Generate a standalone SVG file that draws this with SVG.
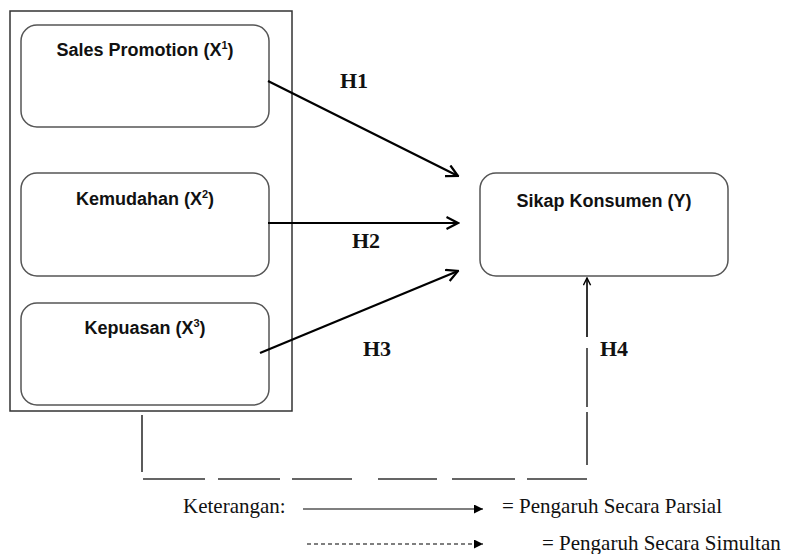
<svg xmlns="http://www.w3.org/2000/svg" width="785" height="554" viewBox="0 0 785 554">
<defs>
<style>
.frame{fill:none;stroke:#333;stroke-width:1.5}
.box{fill:#fff;stroke:#555;stroke-width:1.5}
.lbl{font-family:"Liberation Sans",Arial,sans-serif;font-weight:bold;font-size:18px;fill:#111;text-anchor:middle}
.sup{font-size:11px}
.h{font-family:"Liberation Serif","Times New Roman",serif;font-weight:bold;font-size:22px;fill:#111}
.leg{font-family:"Liberation Serif","Times New Roman",serif;font-size:21px;fill:#111}
.arr{fill:none;stroke:#000;stroke-width:2.2;marker-end:url(#open)}
.dash{fill:none;stroke:#333;stroke-width:1.6}
</style>
<marker id="open" viewBox="0 0 14 14" refX="12.5" refY="7" markerWidth="14" markerHeight="14" markerUnits="userSpaceOnUse" orient="auto">
<path d="M1,1 L12.5,7 L1,13" fill="none" stroke="#000" stroke-width="2.2"/>
</marker>
<marker id="openSmall" viewBox="0 0 10 10" refX="9" refY="5" markerWidth="9" markerHeight="9" markerUnits="userSpaceOnUse" orient="auto">
<path d="M1,1 L9,5 L1,9" fill="none" stroke="#000" stroke-width="1.6"/>
</marker>
<marker id="solid" viewBox="0 0 10 10" refX="10" refY="5" markerWidth="10" markerHeight="9" markerUnits="userSpaceOnUse" orient="auto">
<path d="M0,0 L10,5 L0,10 Z" fill="#000"/>
</marker>
</defs>
<rect x="0" y="0" width="785" height="554" fill="#fff"/>
<rect id="frame" class="frame" x="10" y="11" width="282" height="400"/>
<g id="x1">
<rect class="box" x="21" y="25" width="248" height="102" rx="16"/>
<text class="lbl" x="145" y="56">Sales Promotion (X<tspan class="sup" dy="-7">1</tspan><tspan dy="7">)</tspan></text>
</g>
<g id="x2">
<rect class="box" x="21" y="173" width="248" height="103" rx="16"/>
<text class="lbl" x="145" y="205">Kemudahan (X<tspan class="sup" dy="-7">2</tspan><tspan dy="7">)</tspan></text>
</g>
<g id="x3">
<rect class="box" x="21" y="303" width="248" height="102" rx="16"/>
<text class="lbl" x="145" y="334">Kepuasan (X<tspan class="sup" dy="-7">3</tspan><tspan dy="7">)</tspan></text>
</g>
<g id="y">
<rect class="box" x="480" y="173" width="248" height="103" rx="16"/>
<text class="lbl" x="604" y="207">Sikap Konsumen (Y)</text>
</g>
<g id="connectors">
<line class="arr" x1="268" y1="81" x2="458" y2="176"/>
<line class="arr" x1="268" y1="223" x2="458" y2="223"/>
<line class="arr" x1="260" y1="353" x2="458" y2="271"/>
<path class="dash" d="M142,415 L142,472 M143,479 L205,479 M218,479 L280,479 M292,479 L352,479 M378,479 L437,479 M452,479 L515,479 M527,479 L587,479 M587,465 L587,412 M587,407 L587,348"/>
<line x1="587" y1="337" x2="587" y2="278" stroke="#000" stroke-width="1.6" marker-end="url(#openSmall)"/>
</g>
<g id="labels">
<text class="h" x="340" y="88">H1</text>
<text class="h" x="352" y="248">H2</text>
<text class="h" x="363" y="356">H3</text>
<text class="h" x="600" y="356">H4</text>
</g>
<g id="legend">
<text class="leg" x="183" y="513">Keterangan:</text>
<line x1="303" y1="509" x2="483" y2="509" stroke="#000" stroke-width="1.2" marker-end="url(#solid)"/>
<text class="leg" x="502" y="513">= Pengaruh Secara Parsial</text>
<line x1="307" y1="544" x2="483" y2="544" stroke="#000" stroke-width="1.2" stroke-dasharray="4,3" marker-end="url(#solid)"/>
<text class="leg" x="542" y="550">= Pengaruh Secara Simultan</text>
</g>
</svg>
